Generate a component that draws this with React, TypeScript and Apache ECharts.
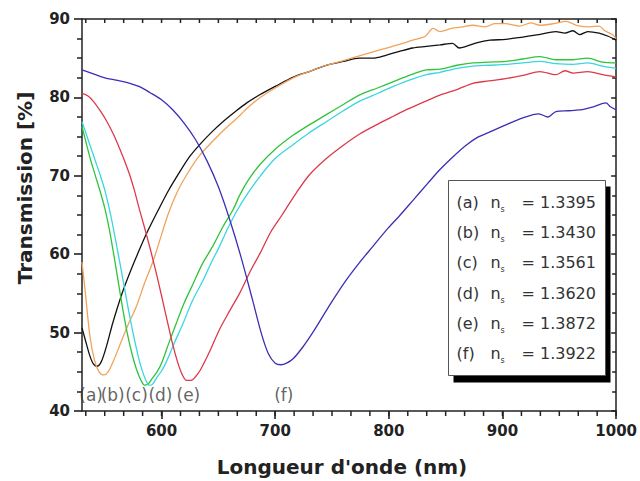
import React, { useEffect, useRef } from "react";
import * as echarts from "echarts";

const curveLetters = ["(a)", "(b)", "(c)", "(d)", "(e)", "(f)"];
const indexValues = ["1.3395", "1.3430", "1.3561", "1.3620", "1.3872", "1.3922"];
const curveColors = ["#111111", "#f2a25a", "#2fc43a", "#3ad6e0", "#dc3a4a", "#3b2fb5"];

const curveA: [number, number][] = [
  [530, 50.6], [534, 48.5], [537, 47.0], [540, 46.0], [543, 45.7], [547, 46.3], [552, 48.5], [557, 51.2],
  [565, 54.9], [572, 57.6], [580, 60.4], [587, 62.7], [597, 65.6], [606, 68.1], [616, 70.5], [625, 72.5],
  [635, 74.2], [645, 75.7], [654, 76.9], [665, 78.2], [675, 79.3], [686, 80.3], [700, 81.4], [716, 82.6],
  [730, 83.3], [745, 84.1], [760, 84.6], [774, 85.0], [786, 85.0], [798, 85.4], [810, 85.9], [821, 86.3],
  [833, 86.5], [845, 86.7], [856, 86.9], [862, 86.3], [868, 86.5], [878, 87.0], [889, 87.3], [903, 87.4],
  [918, 87.7], [932, 88.0], [947, 88.4], [955, 88.2], [962, 88.5], [968, 88.0], [975, 88.4], [985, 88.2],
  [993, 87.8], [1000, 87.3],
];
const curveB: [number, number][] = [
  [530, 59.0], [533, 55.0], [537, 49.5], [541, 46.5], [545, 45.0], [549, 44.6], [553, 45.0], [558, 46.5],
  [563, 48.3], [570, 50.8], [578, 53.4], [585, 56.3], [593, 59.3], [600, 62.5], [606, 65.2], [614, 68.0],
  [622, 70.1], [633, 72.5], [645, 74.4], [656, 76.0], [666, 77.3], [676, 78.7], [686, 79.9], [700, 81.2],
  [716, 82.5], [730, 83.3], [745, 84.1], [760, 84.7], [774, 85.3], [786, 85.8], [798, 86.3], [810, 86.8],
  [821, 87.3], [832, 87.8], [839, 88.8], [845, 88.4], [855, 88.8], [865, 89.0], [874, 89.2], [885, 89.0],
  [893, 89.4], [903, 89.4], [915, 89.1], [925, 89.5], [933, 89.2], [945, 89.4], [956, 89.7], [965, 89.2],
  [977, 89.0], [985, 89.1], [990, 88.5], [997, 88.0], [1000, 87.5],
];
const curveC: [number, number][] = [
  [530, 76.3], [534, 74.0], [538, 71.8], [542, 69.9], [546, 68.0], [550, 65.9], [554, 63.2], [558, 59.9],
  [562, 56.4], [566, 52.9], [570, 49.8], [574, 47.3], [578, 45.3], [582, 43.9], [585, 43.3], [588, 43.4],
  [592, 44.2], [596, 45.0], [600, 46.1], [606, 48.5], [613, 51.2], [620, 53.8], [628, 56.3], [636, 58.8],
  [645, 61.0], [654, 63.5], [663, 65.7], [669, 67.6], [677, 69.6], [687, 71.5], [700, 73.4], [716, 75.2],
  [730, 76.5], [745, 77.8], [760, 79.1], [774, 80.3], [790, 81.2], [804, 82.0], [818, 82.8], [833, 83.5],
  [845, 83.6], [860, 84.1], [874, 84.4], [888, 84.5], [903, 84.6], [918, 84.9], [933, 85.2], [947, 84.8],
  [962, 84.8], [975, 85.0], [988, 84.5], [1000, 84.4],
];
const curveD: [number, number][] = [
  [530, 76.9], [534, 75.2], [538, 73.5], [542, 71.8], [546, 70.1], [550, 68.2], [554, 65.8], [558, 63.0],
  [562, 59.9], [566, 56.8], [570, 53.6], [574, 50.6], [578, 47.9], [582, 45.6], [586, 44.0], [589, 43.3],
  [592, 43.4], [596, 44.3], [600, 45.1], [604, 46.2], [611, 48.6], [619, 51.2], [627, 54.0], [637, 56.8],
  [644, 59.0], [651, 61.0], [659, 63.5], [667, 65.7], [677, 68.0], [687, 70.0], [700, 72.2], [716, 74.0],
  [730, 75.5], [745, 76.9], [760, 78.3], [774, 79.5], [790, 80.5], [804, 81.4], [818, 82.2], [833, 82.9],
  [845, 83.2], [860, 83.7], [874, 84.0], [888, 84.1], [903, 84.2], [918, 84.4], [933, 84.6], [947, 84.3],
  [962, 84.2], [975, 84.4], [988, 84.0], [1000, 83.7],
];
const curveE: [number, number][] = [
  [530, 80.5], [535, 80.2], [540, 79.5], [546, 78.3], [552, 76.9], [558, 75.2], [563, 73.5], [568, 71.7],
  [572, 70.1], [576, 68.2], [580, 66.0], [585, 63.4], [590, 60.7], [595, 57.8], [600, 54.7], [605, 51.5],
  [610, 48.4], [614, 46.3], [618, 44.7], [622, 43.9], [626, 43.9], [630, 44.4], [634, 45.2], [642, 47.5],
  [651, 50.4], [660, 52.8], [669, 55.1], [678, 57.8], [687, 60.2], [696, 62.8], [706, 65.0], [718, 67.7],
  [730, 70.1], [745, 72.2], [760, 73.9], [774, 75.3], [789, 76.5], [804, 77.6], [818, 78.6], [832, 79.5],
  [845, 80.3], [860, 81.0], [874, 81.8], [888, 82.1], [903, 82.4], [918, 82.8], [933, 83.3], [947, 82.9],
  [955, 83.4], [962, 83.1], [975, 83.3], [988, 82.9], [1000, 82.6],
];
const curveF: [number, number][] = [
  [530, 83.5], [540, 83.0], [550, 82.5], [560, 82.2], [570, 81.9], [580, 81.4], [590, 80.6], [600, 79.7],
  [610, 78.4], [620, 76.7], [630, 74.6], [640, 71.9], [650, 68.6], [660, 64.4], [670, 59.6], [680, 54.2],
  [688, 49.8], [694, 47.3], [700, 46.1], [705, 45.9], [710, 46.1], [716, 46.7], [724, 48.1], [733, 50.0],
  [742, 52.1], [751, 54.2], [762, 56.6], [774, 58.9], [786, 61.0], [798, 63.1], [810, 65.0], [822, 67.0],
  [834, 69.0], [845, 70.8], [857, 72.5], [868, 73.9], [878, 74.9], [889, 75.6], [903, 76.5], [918, 77.4],
  [932, 77.9], [940, 77.5], [947, 78.2], [958, 78.3], [968, 78.4], [980, 78.8], [991, 79.3], [995, 78.8],
  [1000, 78.4],
];
const curves = [curveA, curveB, curveC, curveD, curveE, curveF];

// positions of the "(a)".."(f)" annotations in data coordinates
const curveLabelPos: [number, number][] = [
  [538, 42.1], [557, 42.1], [578, 42.1], [599, 42.1], [623.6, 42.1], [707.6, 42.1],
];

const xMajorTicks = [600, 700, 800, 900, 1000];
const xMinorTicks: number[] = [];
for (let k = -4; k <= 24; k++) {
  const v = 600 + (k * 100) / 6;
  if (v >= 530 && v <= 1000) xMinorTicks.push(Math.round(v * 100) / 100);
}
const yMin = 40;
const yMax = 90;
const xMin = 530;
const xMax = 1000;
const xTitle = "Longueur d'onde (nm)";
const yTitle = "Transmission [%]";

const FONT = "DejaVu Sans";

export default function App() {
  const ref = useRef<HTMLDivElement>(null);
  useEffect(() => {
    if (!ref.current) return;
    const chart = echarts.init(ref.current, undefined, { renderer: "svg" });

    const legendChildren: any[] = [
      { type: "rect", shape: { x: 5, y: 6, width: 157, height: 196 }, style: { fill: "#000" } },
      { type: "rect", shape: { x: 0, y: 0, width: 157, height: 195 }, style: { fill: "#fff", stroke: "#555", lineWidth: 1 } },
    ];
    curveLetters.forEach((l, i) => {
      const cy = 22 + 30.2 * i;
      const common = { fill: "#333", fontFamily: FONT, verticalAlign: "middle" };
      legendChildren.push({ type: "text", x: 8, y: cy, style: { ...common, text: l, fontSize: 16 } });
      legendChildren.push({ type: "text", x: 42, y: cy, style: { ...common, text: "n", fontSize: 16 } });
      legendChildren.push({ type: "text", x: 52, y: cy + 7, style: { ...common, text: "s", fontSize: 8 } });
      legendChildren.push({ type: "text", x: 73, y: cy, style: { ...common, text: "= " + indexValues[i], fontSize: 16 } });
    });

    const lineSeries = curves.map((c, i) => ({
      type: "line",
      name: curveLetters[i],
      data: c,
      xAxisIndex: 0,
      yAxisIndex: 0,
      showSymbol: false,
      symbol: "none",
      smooth: 0.3,
      lineStyle: { color: curveColors[i], width: 1.3 },
      z: 3,
    }));

    const axisLineStyle = { color: "#222", width: 1.5 };

    chart.setOption({
      animation: false,
      grid: { left: 82, right: 23, top: 19, bottom: 70, containLabel: false },
      xAxis: [
        {
          type: "value", position: "bottom", min: xMin, max: xMax,
          axisLine: { show: true, lineStyle: axisLineStyle },
          axisTick: { show: true, customValues: xMajorTicks, length: 8, lineStyle: { color: "#222", width: 1.6 } },
          axisLabel: {
            show: true, customValues: xMajorTicks, fontSize: 15, fontWeight: "bold", fontFamily: FONT,
            color: "#222", margin: 12, formatter: (v: number) => String(v),
          },
          splitLine: { show: false },
        },
        {
          type: "value", position: "top", min: xMin, max: xMax,
          axisLine: { show: true, lineStyle: axisLineStyle },
          axisTick: { show: false },
          axisLabel: { show: false },
          splitLine: { show: false },
        },
      ],
      yAxis: [
        {
          type: "value", position: "left", min: yMin, max: yMax, interval: 10,
          axisLine: { show: true, lineStyle: axisLineStyle },
          axisTick: { show: true, length: 8, lineStyle: { color: "#222", width: 1.6 } },
          minorTick: { show: true, splitNumber: 4, length: 5, lineStyle: { color: "#222", width: 1.5 } },
          axisLabel: { fontSize: 15, fontWeight: "bold", fontFamily: FONT, color: "#222", margin: 12 },
          splitLine: { show: false },
        },
        {
          type: "value", position: "right", min: yMin, max: yMax, interval: 10,
          axisLine: { show: true, lineStyle: axisLineStyle },
          axisTick: { show: true, inside: true, length: 5, lineStyle: { color: "#222", width: 1.5 } },
          minorTick: { show: true, splitNumber: 4, length: 4, lineStyle: { color: "#222", width: 1.5 } },
          axisLabel: { show: false },
          splitLine: { show: false },
        },
      ],
      series: [
        ...lineSeries,
        {
          type: "scatter",
          xAxisIndex: 0,
          yAxisIndex: 0,
          symbolSize: 1,
          itemStyle: { color: "rgba(0,0,0,0)" },
          data: curveLetters.map((l, i) => ({ name: l, value: curveLabelPos[i] })),
          label: {
            show: true, position: "inside", formatter: "{b}",
            fontSize: 17, fontFamily: FONT, color: "#3a3a3a",
          },
          z: 4,
        },
      ],
    });

    // minor ticks of the wavelength axis, placed through the axis scale
    const yBottom = chart.convertToPixel({ yAxisIndex: 0 }, yMin) as number;
    const yTop = chart.convertToPixel({ yAxisIndex: 0 }, yMax) as number;
    const tickStyle = { stroke: "#222", lineWidth: 1.5 };
    const tickElems: any[] = [];
    xMinorTicks.forEach((v) => {
      const px = chart.convertToPixel({ xAxisIndex: 0 }, v) as number;
      tickElems.push({ type: "line", shape: { x1: px, y1: yBottom, x2: px, y2: yBottom + 5 }, style: tickStyle, silent: true });
      tickElems.push({ type: "line", shape: { x1: px, y1: yTop, x2: px, y2: yTop + 4 }, style: tickStyle, silent: true });
    });

    chart.setOption({
      graphic: [
        { type: "group", children: tickElems, z: 6 },
        { type: "group", left: 448, top: 180, children: legendChildren, z: 10 },
        {
          type: "text", x: 342, y: 467, z: 10,
          style: { text: xTitle, fontSize: 20, fontWeight: "bold", fontFamily: FONT, fill: "#222", align: "center", verticalAlign: "middle" },
        },
        {
          type: "text", x: 25, y: 188, rotation: Math.PI / 2, z: 10,
          style: { text: yTitle, fontSize: 20, fontWeight: "bold", fontFamily: FONT, fill: "#222", align: "center", verticalAlign: "middle" },
        },
      ],
    });

    return () => chart.dispose();
  }, []);

  return (
    <div
      ref={ref}
      style={{ position: "fixed", left: 0, top: 0, width: 640, height: 481, background: "#fff" }}
    />
  );
}
